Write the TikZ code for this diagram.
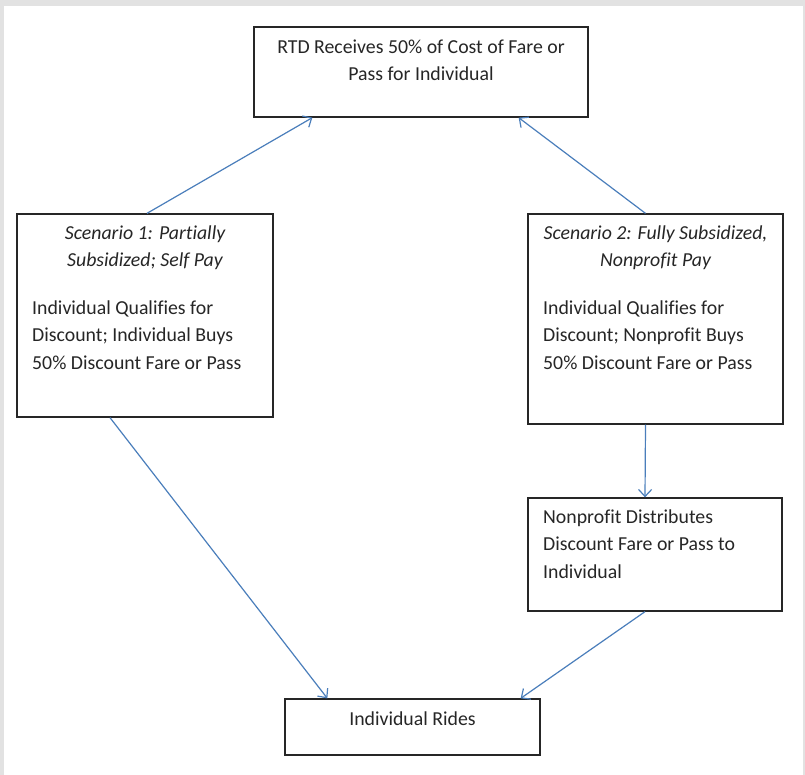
\documentclass[tikz,border=0pt]{standalone}
\usepackage{fontspec}
\setmainfont{Carlito}[Ligatures={NoCommon}]
\usetikzlibrary{arrows.meta}
\definecolor{arrowblue}{HTML}{4A7EBB}
\definecolor{txt}{HTML}{262626}
\definecolor{frame}{HTML}{E2E2E2}
\tikzset{
  box/.style={draw=black!85, line width=1.3pt, inner sep=0pt},
  txtnode/.style={inner sep=0pt, text=txt, font=\fontsize{19.8}{27.5}\selectfont},
  flow/.style={draw=arrowblue, line width=1.2pt, -{Straight Barb[length=7pt,width=13pt,line width=1.2pt]}}
}
\begin{document}
\begin{tikzpicture}[x=1pt,y=-1pt]
\useasboundingbox (0,0) rectangle (805,775);
\fill[white] (0,0) rectangle (805,775);
\fill[frame] (0,0) rectangle (805,6);
\fill[frame] (0,0) rectangle (4,775);
\fill[frame] (803,0) rectangle (805,775);

% boxes
\node[box, minimum width=334pt, minimum height=90pt] (rtd) at (421,72) {};
\node[box, minimum width=256pt, minimum height=203pt] (sc1) at (145,315.5) {};
\node[box, minimum width=255pt, minimum height=210pt] (sc2) at (655.5,319) {};
\node[box, minimum width=254pt, minimum height=113pt] (np) at (655,554.5) {};
\node[box, minimum width=255pt, minimum height=56pt] (rides) at (412.5,727) {};

% texts
\node[txtnode, anchor=north, align=center] (rtdtxt) at (421,33.75)
  {\strut RTD Receives 50\% of Cost of Fare or\\Pass for Individual};
\node[txtnode, anchor=north, align=center, font=\fontsize{19.8}{27.5}\selectfont\itshape] (sc1title) at (145,219.75)
  {\strut Scenario 1: Partially\\Subsidized; Self Pay};
\node[txtnode, anchor=north west, align=left] (sc1body) at (32,294.75)
  {\strut Individual Qualifies for\\Discount; Individual Buys\\50\% Discount Fare or Pass};
\node[txtnode, anchor=north, align=center, font=\fontsize{19.8}{27.5}\selectfont\itshape] (sc2title) at (655.5,219.75)
  {\strut Scenario 2: Fully Subsidized,\\Nonprofit Pay};
\node[txtnode, anchor=north west, align=left] (sc2body) at (543,294.75)
  {\strut Individual Qualifies for\\Discount; Nonprofit Buys\\50\% Discount Fare or Pass};
\node[txtnode, anchor=north west, align=left] (nptxt) at (543,503.75)
  {\strut Nonprofit Distributes\\Discount Fare or Pass to\\Individual};
\node[txtnode, anchor=base] (ridestxt) at (412.5,725) {Individual Rides};

% connectors
\draw[flow] ([xshift=2pt]sc1.north) -- ([xshift=59pt]rtd.south west);
\draw[flow] ([xshift=-10pt]sc2.north) -- ([xshift=-70pt]rtd.south east);
\draw[flow] ([xshift=-10pt]sc2.south) -- ([xshift=-10pt]np.north);
\draw[flow] ([xshift=-35pt]sc1.south) -- ([xshift=43pt]rides.north west);
\draw[flow] ([xshift=-10pt]np.south) -- ([xshift=-20pt]rides.north east);
\end{tikzpicture}
\end{document}
